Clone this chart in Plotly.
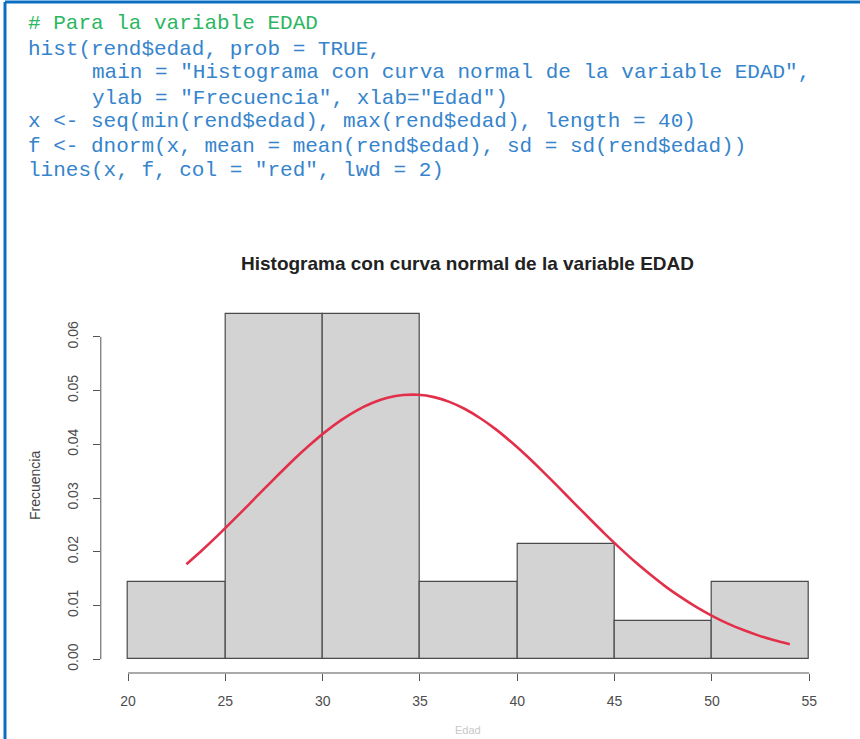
import plotly.graph_objects as go

W, H = 860, 739

# Histogram of EDAD (prob = TRUE): bin edges and counts per bin
bin_edges = [20, 25, 30, 35, 40, 45, 50, 55]
bin_counts = [2, 9, 9, 2, 3, 1, 2]

# Normal density curve over the observed age range (40 points)
curve_x = [23.00, 23.79, 24.59, 25.38, 26.18, 26.97, 27.77, 28.56, 29.36, 30.15,
           30.95, 31.74, 32.54, 33.33, 34.13, 34.92, 35.72, 36.51, 37.31, 38.10,
           38.90, 39.69, 40.49, 41.28, 42.08, 42.87, 43.67, 44.46, 45.26, 46.05,
           46.85, 47.64, 48.44, 49.23, 50.03, 50.82, 51.62, 52.41, 53.21, 54.00]
curve_y = [0.01767, 0.02023, 0.02295, 0.02578, 0.02869, 0.03162, 0.03451, 0.03731,
           0.03995, 0.04236, 0.04449, 0.04628, 0.04768, 0.04865, 0.04917, 0.04921,
           0.04878, 0.04790, 0.04657, 0.04485, 0.04278, 0.04042, 0.03782, 0.03505,
           0.03216, 0.02924, 0.02632, 0.02347, 0.02073, 0.01813, 0.01571, 0.01347,
           0.01145, 0.00964, 0.00803, 0.00663, 0.00542, 0.00439, 0.00352, 0.00280]

x_ticks = [20, 25, 30, 35, 40, 45, 50, 55]
y_ticks = [0.00, 0.01, 0.02, 0.03, 0.04, 0.05, 0.06]

code_lines = [
    ("# Para la variable EDAD", 26, 24, "#2bb661"),
    ("hist(rend$edad, prob = TRUE,", 26, 49, "#3584cc"),
    ("main = \"Histograma con curva normal de la variable EDAD\",", 90, 73, "#3584cc"),
    ("ylab = \"Frecuencia\", xlab=\"Edad\")", 90, 98, "#3584cc"),
    ("x <- seq(min(rend$edad), max(rend$edad), length = 40)", 26, 122, "#3584cc"),
    ("f <- dnorm(x, mean = mean(rend$edad), sd = sd(rend$edad))", 26, 146, "#3584cc"),
    ("lines(x, f, col = \"red\", lwd = 2)", 26, 171, "#3584cc"),
]

n = sum(bin_counts)
widths = [b - a for a, b in zip(bin_edges[:-1], bin_edges[1:])]
mids = [(a + b) / 2 for a, b in zip(bin_edges[:-1], bin_edges[1:])]
dens = [c / (n * w) for c, w in zip(bin_counts, widths)]


def px(xp):
    return xp / W


def py(yp):
    return 1 - yp / H


# plot region in pixels (R-style 4% padding around data range)
x_lo, x_hi = 18.6, 56.4
y_lo, y_hi = -0.00257, 0.06686
left_px, right_px = 100.8, 836.5
top_px, bottom_px = 300.0, 673.0

fig = go.Figure()
fig.add_trace(go.Bar(
    x=mids, y=dens, width=widths,
    marker=dict(color="#d3d3d3", line=dict(color="#4a4a4a", width=1.2)),
    hoverinfo="skip",
))
fig.add_trace(go.Scatter(
    x=curve_x, y=curve_y, mode="lines",
    line=dict(color="#e3304a", width=2.6, shape="spline", smoothing=0.6),
    hoverinfo="skip",
))

tick_font = dict(family="Liberation Sans, Arial", size=14, color="#4d4d4d")

fig.update_layout(
    width=W, height=H,
    margin=dict(l=0, r=0, t=0, b=0),
    paper_bgcolor="white", plot_bgcolor="white",
    showlegend=False, bargap=0,
    xaxis=dict(
        domain=[px(left_px), px(right_px)], range=[x_lo, x_hi],
        showgrid=False, zeroline=False, showline=False,
        tickmode="array", tickvals=x_ticks, ticktext=[str(v) for v in x_ticks],
        ticks="outside", ticklen=7, tickcolor="#555", tickwidth=1,
        tickfont=tick_font, ticklabelstandoff=8,
    ),
    yaxis=dict(
        domain=[py(bottom_px), py(top_px)], range=[y_lo, y_hi],
        showgrid=False, zeroline=False, showline=False,
        tickmode="array", tickvals=y_ticks, ticktext=[f"{v:.2f}" for v in y_ticks],
        ticks="outside", ticklen=7, tickcolor="#555", tickwidth=1,
        tickangle=-90, tickfont=tick_font, ticklabelstandoff=9,
    ),
)

# R-style axis lines spanning only the tick range
fig.add_shape(type="line", xref="x", yref="paper",
              x0=x_ticks[0], x1=x_ticks[-1], y0=py(bottom_px), y1=py(bottom_px),
              line=dict(color="#555", width=1))
fig.add_shape(type="line", xref="paper", yref="y",
              x0=px(left_px), x1=px(left_px), y0=y_ticks[0], y1=y_ticks[-1],
              line=dict(color="#555", width=1))

# document frame (blue rules at top and left)
fig.add_shape(type="line", xref="paper", yref="paper",
              x0=px(5), x1=1, y0=py(2), y1=py(2),
              line=dict(color="#0a6fc2", width=3))
fig.add_shape(type="line", xref="paper", yref="paper",
              x0=px(5), x1=px(5), y0=py(2), y1=0,
              line=dict(color="#0a6fc2", width=3))

# R source code shown above the chart
for text, xp, yp, col in code_lines:
    fig.add_annotation(
        text=text, xref="paper", yref="paper", x=px(xp), y=py(yp),
        xanchor="left", yanchor="middle", showarrow=False,
        font=dict(family="Liberation Mono, Courier New", size=21, color=col),
    )

# titles
fig.add_annotation(
    text="<b>Histograma con curva normal de la variable EDAD</b>",
    xref="paper", yref="paper", x=px(467), y=py(263),
    xanchor="center", yanchor="middle", showarrow=False,
    font=dict(family="Liberation Sans, Arial", size=19, color="#222"),
)
fig.add_annotation(
    text="Frecuencia", textangle=-90,
    xref="paper", yref="paper", x=px(35), y=py(486),
    xanchor="center", yanchor="middle", showarrow=False,
    font=dict(family="Liberation Sans, Arial", size=14, color="#444"),
)
fig.add_annotation(
    text="Edad",
    xref="paper", yref="paper", x=px(468), y=py(738),
    xanchor="center", yanchor="bottom", showarrow=False,
    font=dict(family="Liberation Sans, Arial", size=11, color="#c8c8c8"),
)

fig.write_html("out.html")
